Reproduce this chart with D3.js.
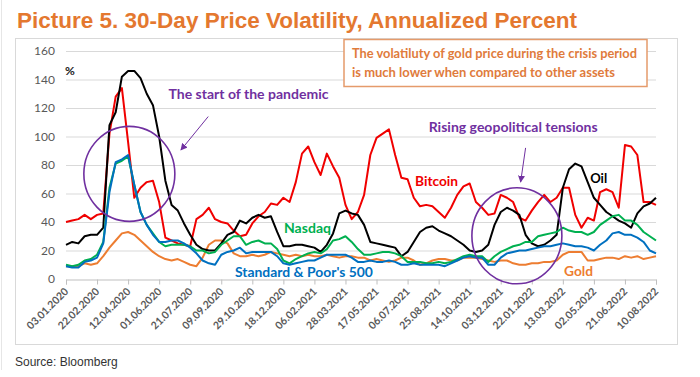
<!DOCTYPE html>
<html><head><meta charset="utf-8">
<script src="https://cdn.jsdelivr.net/npm/d3@7"></script>
<style>body{margin:0;background:#fff}svg{display:block}</style>
</head><body>
<svg id="c" width="700" height="377"></svg>
<script>
// ---------------- DATA ----------------
const tickLabels = ["03.01.2020","22.02.2020","12.04.2020","01.06.2020","21.07.2020","09.09.2020","29.10.2020","18.12.2020","06.02.2021","28.03.2021","17.05.2021","06.07.2021","25.08.2021","14.10.2021","03.12.2021","22.01.2022","13.03.2022","02.05.2022","21.06.2022","10.08.2022"];
const yTicks = [0,20,40,60,80,100,120,140,160];
const firstDate = "03.01.2020";
const stepDays = 10;

const bitcoin = [40,41,42,45,42,45,46,102,128,134,96,57,64,68,69,54,29,27,25,24,23,42,45,50,42,40,39,34,30,31,39,44,47,53,52,57,54,68,88,93,82,73,88,79,71,52,42,47,59,87,99,102,105,87,71,70,57,51,52,51,47,43,50,59,65,67,54,50,45,46,59,57,54,43,41,48,54,59,54,57,64,64,45,36,43,41,61,63,61,50,94,93,87,54,54,52];
const oil = [24,26,25,30,31,31,36,108,117,142,146,146,141,130,122,100,69,52,48,39,31,24,21,20,20,25,31,33,41,39,43,45,43,44,33,23,23,24,24,23,22,19,24,32,46,48,46,45,38,26,25,24,23,22,16,19,26,33,36,37,34,32,30,27,24,20,19,20,24,38,47,50,48,45,31,25,23,24,27,31,64,77,81,79,68,57,52,47,44,41,39,36,46,51,53,57];
const nasdaq = [10,9,10,13,14,17,26,64,81,83,86,66,47,38,32,26,23,24,24,24,23,20,20,18,19,24,27,30,30,24,26,27,25,25,21,13,11,14,16,18,19,18,21,27,28,30,26,21,17,17,18,19,19,18,16,12,12,12,11,11,12,11,12,14,16,17,16,16,12,16,19,21,23,24,26,26,30,31,32,33,36,34,33,33,31,33,38,41,44,45,41,41,38,33,30,27];
const sp500 = [9,8,8,12,13,15,25,61,82,84,87,66,47,38,31,26,26,27,27,25,22,18,13,11,10,17,19,20,22,18,19,19,19,19,16,11,10,11,12,13,13,15,17,17,17,17,15,12,12,13,12,12,13,12,10,10,11,10,10,10,10,9,11,13,15,16,15,15,10,10,15,18,19,20,20,21,22,23,23,24,25,24,23,23,22,20,24,27,32,33,31,31,29,26,20,18];
const gold = [9,9,9,11,10,11,16,22,27,32,33,31,27,23,19,16,14,13,14,12,10,9,15,24,27,27,25,18,16,16,17,16,17,19,18,17,16,17,16,17,16,16,17,16,15,16,16,15,15,13,14,13,12,13,15,15,13,10,11,13,14,14,13,13,15,15,15,14,13,12,13,13,11,10,10,11,11,12,12,13,17,19,19,19,13,13,14,15,15,14,16,15,16,14,15,16];

// ---------------- SETUP ----------------
const svg = d3.select("#c");
const parse = d3.timeParse("%d.%m.%Y");
const fmt = d3.timeFormat("%d.%m.%Y");
const t0 = parse(firstDate);
const dates = bitcoin.map((_, i) => d3.timeDay.offset(t0, i * stepDays));
const day = n => d3.timeDay.offset(t0, n);

const x = d3.scaleTime().domain([parse(tickLabels[0]), parse(tickLabels[tickLabels.length-1])]).range([66, 656]);
const y = d3.scaleLinear().domain([0, 160]).range([279, 51]);

const FONT = "Lato, 'Open Sans', sans-serif";
const PURPLE = "#7030A0";

// frames
svg.append("line").attr("x1",1.5).attr("x2",1.5).attr("y1",0).attr("y2",370).attr("stroke","#E6E6E6");
svg.append("rect").attr("x",15.5).attr("y",38.5).attr("width",662).attr("height",306)
  .attr("fill","none").attr("stroke","#D9D9D9");

function txt(px, py, s, o) {
  const t = svg.append("text").attr("x", px).attr("y", py).text(s)
    .attr("font-family", o.family || FONT).attr("font-size", o.size).attr("font-weight", o.weight || "bold")
    .attr("fill", o.color);
  if (o.width) t.attr("textLength", o.width).attr("lengthAdjust", "spacingAndGlyphs");
  return t;
}
// title
txt(17, 28, "Picture 5. 30-Day Price Volatility, Annualized Percent",
  {family:"'Liberation Sans Narrow','Arial Narrow','Liberation Sans',Arial,sans-serif", size:22, color:"#E4782F", width:560});

// gridlines
svg.append("g").selectAll("line").data(yTicks.filter(v => v > 0)).join("line")
  .attr("x1", x.range()[0]).attr("x2", x.range()[1])
  .attr("y1", d => y(d) + 0.5).attr("y2", d => y(d) + 0.5)
  .attr("stroke", "#D9D9D9").attr("stroke-width", 1);

// y axis labels
const ya = svg.append("g").attr("transform", `translate(${x.range()[0]},0)`)
  .call(d3.axisLeft(y).tickValues(yTicks).tickSize(0).tickPadding(11));
ya.select(".domain").remove();
ya.selectAll("text").attr("font-family", FONT).attr("font-size", 12).attr("fill", "#595959");

// x axis
const xa = svg.append("g").attr("transform", `translate(0,${y(0) + 0.5})`)
  .call(d3.axisBottom(x).tickValues(tickLabels.map(parse)).tickSize(5).tickFormat(fmt));
xa.select(".domain").attr("stroke", "#BFBFBF");
xa.selectAll(".tick line").attr("stroke", "#BFBFBF");
xa.selectAll(".tick text")
  .attr("font-family", FONT).attr("font-size", 10.5).attr("font-weight", "bold").attr("fill", "#595959")
  .attr("text-anchor", "end").attr("x", 0).attr("y", 0).attr("dy", "0.35em")
  .attr("transform", "translate(0,10) rotate(-45)");

// series
const series = [
  {name: "Gold", values: gold, color: "#ED7D31"},
  {name: "Bitcoin", values: bitcoin, color: "#F00000"},
  {name: "Oil", values: oil, color: "#000000"},
  {name: "Nasdaq", values: nasdaq, color: "#00B050"},
  {name: "Standard & Poor's 500", values: sp500, color: "#0070C0"}
];
const line = d3.line().x((d, i) => x(dates[i])).y(d => y(d));
svg.append("g").selectAll("path").data(series).join("path")
  .attr("d", d => line(d.values)).attr("fill", "none")
  .attr("stroke", d => d.color).attr("stroke-width", 2).attr("stroke-linejoin", "round");

// annotation box
svg.append("rect").attr("x", 344).attr("y", 39.5).attr("width", 303).attr("height", 47)
  .attr("fill", "#fff").attr("stroke", "#E59B6B").attr("stroke-width", 1.5);
txt(352, 58, "The volatiluty of gold price during the crisis period", {size:12.5, color:"#E07B3C", width:285});
txt(352, 76.5, "is much lower when compared to other assets", {size:12.5, color:"#E07B3C", width:263});

// % label
txt(x.range()[0] - 1, 75, "%", {size:12, color:"#222"});

// purple annotations
svg.append("defs").append("marker").attr("id", "ah").attr("viewBox", "0 0 10 10")
  .attr("refX", 9).attr("refY", 5).attr("markerWidth", 7).attr("markerHeight", 7)
  .attr("markerUnits", "userSpaceOnUse").attr("orient", "auto")
  .append("path").attr("d", "M0,0 L10,5 L0,10 z").attr("fill", PURPLE);

txt(x(day(165)), y(126), "The start of the pandemic", {size:13, color:PURPLE, width:160});
svg.append("line").attr("x1", x(day(229))).attr("y1", y(114)).attr("x2", x(day(185))).attr("y2", y(90.5))
  .attr("stroke", PURPLE).attr("stroke-width", 1).attr("marker-end", "url(#ah)");
svg.append("ellipse").attr("cx", x(day(102))).attr("cy", y(73.8)).attr("rx", 45.5).attr("ry", 47.5)
  .attr("fill", "none").attr("stroke", PURPLE).attr("stroke-width", 1.6);

txt(x(day(584)), y(103), "Rising geopolitical tensions", {size:13, color:PURPLE, width:169});
svg.append("line").attr("x1", x(day(740))).attr("y1", y(92)).attr("x2", x(day(732))).attr("y2", y(68))
  .attr("stroke", PURPLE).attr("stroke-width", 1).attr("marker-end", "url(#ah)");
svg.append("ellipse").attr("cx", x(day(726))).attr("cy", y(30.3)).attr("rx", 45).attr("ry", 48)
  .attr("fill", "none").attr("stroke", PURPLE).attr("stroke-width", 1.6);

// series labels
txt(x(day(562)), y(65.5), "Bitcoin", {size:13, color:"#F00000", width:43});
txt(x(day(844)), y(67.6), "Oil", {size:13, color:"#000", width:17});
txt(x(day(351)), y(32.1), "Nasdaq", {size:13, color:"#00B050", width:47});
txt(x(day(272)), y(1.6), "Standard & Poor's 500", {size:13, color:"#0070C0", width:138});
txt(x(day(802)), y(2.3), "Gold", {size:13, color:"#ED7D31", width:29});

// source
txt(15, 366, "Source: Bloomberg", {family:"'Liberation Sans',Arial,sans-serif", size:12, weight:"normal", color:"#333"});
</script>
</body></html>
